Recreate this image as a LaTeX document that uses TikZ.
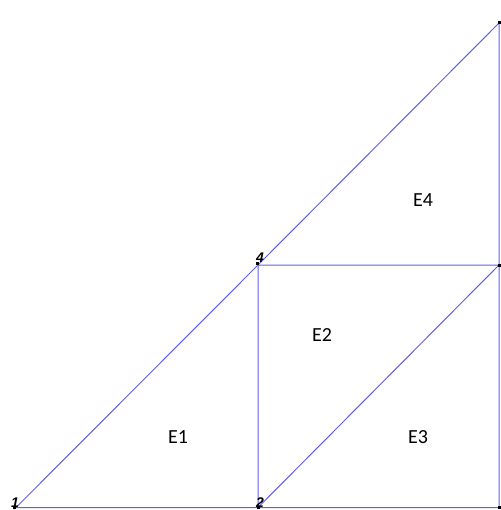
\documentclass[tikz,border=0pt]{standalone}
\usepackage{fontspec}
\setmainfont{Carlito}
\newfontfamily\nodefont{Liberation Sans}
\begin{document}
\begin{tikzpicture}[x=1pt,y=-1pt,
  edge/.style={draw={rgb,255:red,95;green,95;blue,235}, line width=1pt},
  pt/.style={fill=black, inner sep=0pt, minimum size=3pt, rectangle},
  nlab/.style={font=\nodefont\bfseries\itshape\fontsize{14}{14}\selectfont, inner sep=0pt},
  elab/.style={font=\fontsize{20}{20}\selectfont, inner sep=0pt}]
\useasboundingbox (0,0) rectangle (500,510);
\coordinate (n1) at (16,507.5);
\coordinate (n2) at (258,507.5);
\coordinate (n3) at (499,507.5);
\coordinate (n4) at (258,265);
\coordinate (n5) at (499,265);
\coordinate (n6) at (499,23);
\draw[edge] (n1) -- (n2) -- (n3) -- (n5) -- (n6) -- (n4) -- (n1);
\draw[edge] (n2) -- (n4) -- (n5) -- (n2);
\node[pt] (p1) at (14,507) {};
\node[pt] (p2) at (n2) {};
\node[pt] (p3) at (n3) {};
\node[pt] (p4) at (257,263.5) {};
\node[pt] (p5) at (n5) {};
\node[pt] (p6) at (n6) {};
\node[nlab] (l1) at (15,503) {1};
\node[nlab] (l2) at (260,503) {2};
\node[nlab] (l4) at (260,257.5) {4};
\node[elab] (e1) at (178,437) {E1};
\node[elab] (e2) at (322,335) {E2};
\node[elab] (e3) at (418,437) {E3};
\node[elab] (e4) at (423,200) {E4};
\end{tikzpicture}
\end{document}
